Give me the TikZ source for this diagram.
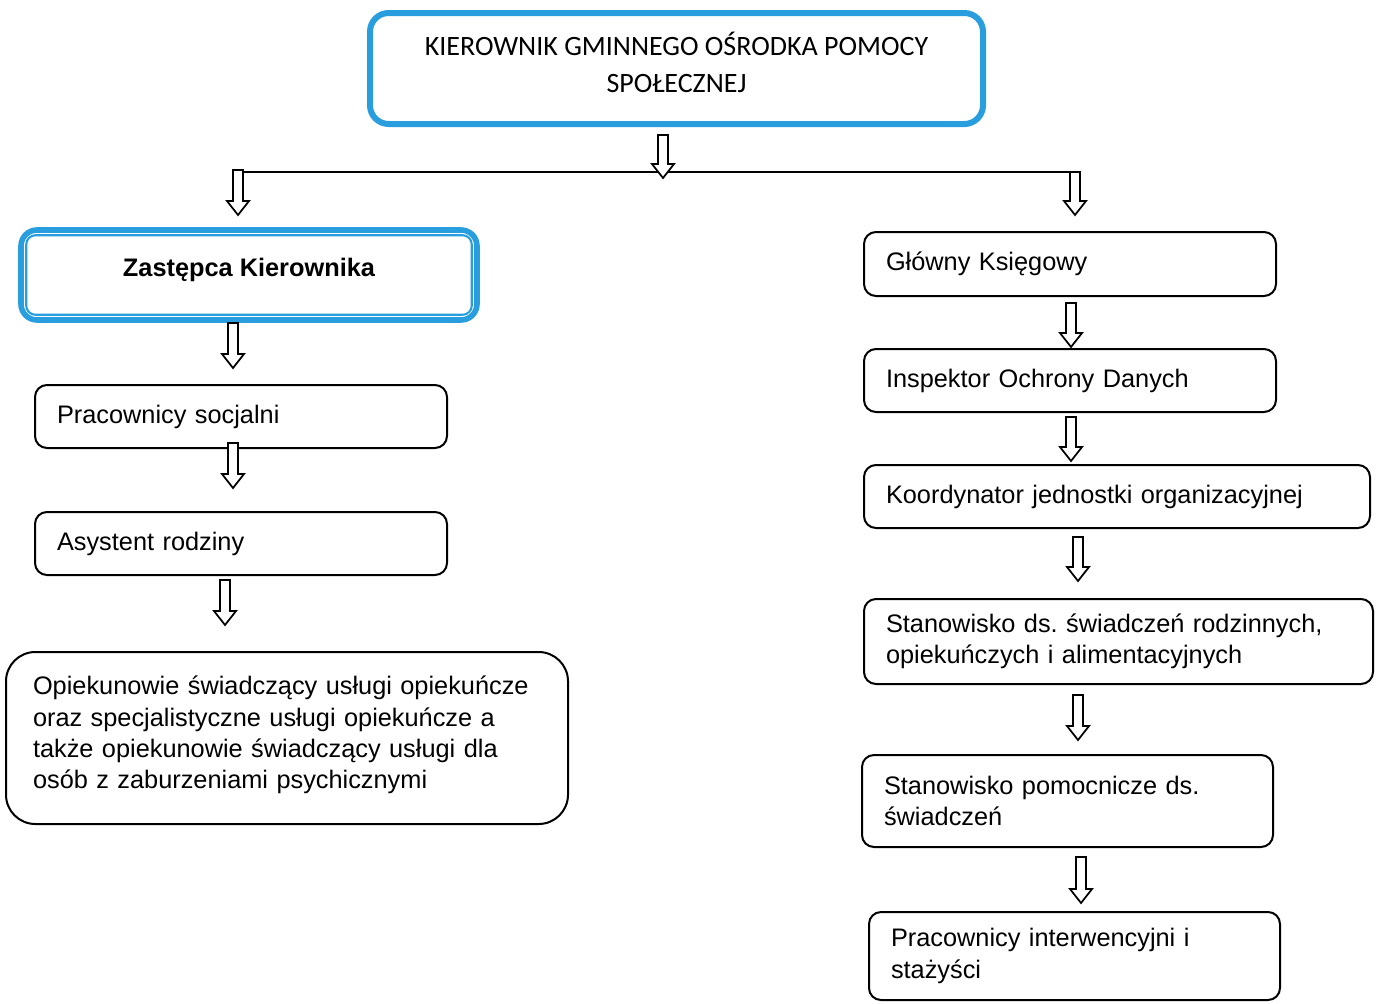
\documentclass[tikz,border=0pt]{standalone}
\usepackage{fontspec}
\setmainfont{Liberation Sans}
\newfontfamily\calfont{Carlito}
\definecolor{bl}{RGB}{40,158,222}
\frenchspacing
\tikzset{
  box/.style={draw=black, line width=1.5pt, rounded corners=9pt, fill=white,
    align=left, inner xsep=16.5pt, inner ysep=0pt,
    font=\fontsize{19}{23.5}\selectfont, anchor=center},
  bluebox/.style={draw=bl, line width=4.5pt, rounded corners=14pt, fill=white,
    align=center, inner sep=0pt, anchor=center},
  arr/.style={draw=black, line width=1.3pt, fill=white, line join=miter},
  hline/.style={draw=black, line width=1.5pt}
}
\newcommand\barrow[4]{%
  \draw[arr] (#2-5,#3) -- (#2+5,#3) -- (#2+5,#4-14) -- (#2+11,#4-14) -- (#2,#4)
    -- (#2-11,#4-14) -- (#2-5,#4-14) -- cycle;
  \coordinate (#1) at (#2,#3);}
\begin{document}
\begin{tikzpicture}[x=0.75pt,y=-0.75pt]
\useasboundingbox (0,0) rectangle (1376,1003);

% top
\node[bluebox, minimum width=459.75pt, minimum height=83.25pt,
  font=\calfont\fontsize{21}{28}\selectfont] (kier) at (676.5,68.5)
  {KIEROWNIK GMINNEGO OŚRODKA POMOCY\\SPOŁECZNEJ\rule[-9pt]{0pt}{0pt}};

% connectors from top
\draw[hline] (238,172) coordinate (hl) -- (1075,172) coordinate (hr);
\barrow{am}{663}{135}{178}
\barrow{al}{238}{170}{215}
\barrow{ar}{1075}{172}{215}

% left column
\node[bluebox, line width=4.2pt, minimum width=342pt, minimum height=67.5pt, rounded corners=12pt,
  font=\bfseries\fontsize{19}{23.5}\selectfont, text depth=12pt] (zast) at (249,275)
  {Zastępca Kierownika};
\path (zast.north west) ++(8,8) coordinate (zi1);
\path (zast.south east) ++(-8,-8) coordinate (zi2);
\draw[draw=bl, line width=1.6pt, rounded corners=7pt] (zi1) rectangle (zi2);

\barrow{a1}{233}{323}{368}
\node[box, text width=276pt, minimum height=47.25pt] (ps) at (241,416.5)
  {Pracownicy socjalni};
\barrow{a2}{233}{443}{488}
\node[box, text width=276pt, minimum height=47.25pt] (asr) at (241,543.5)
  {Asystent rodziny};
\barrow{a3}{225}{580}{625}
\node[box, text width=381pt, inner xsep=20.25pt, minimum height=129pt,
  rounded corners=22pt] (op) at (287,738)
  {Opiekunowie świadczący usługi opiekuńcze\\
   oraz specjalistyczne usługi opiekuńcze a\\
   także opiekunowie świadczący usługi dla\\
   osób z zaburzeniami psychicznymi\rule[-8.5pt]{0pt}{0pt}};

% right column
\node[box, text width=276pt, minimum height=48pt] (gk) at (1070,264)
  {Główny Księgowy};
\barrow{r1}{1071}{303}{347}
\node[box, text width=276pt, minimum height=47.25pt] (iod) at (1070,380.5)
  {Inspektor Ochrony Danych};
\barrow{r2}{1071}{417}{461}
\node[box, text width=346.5pt, minimum height=47.25pt] (kj) at (1117,496.5)
  {Koordynator jednostki organizacyjnej};
\barrow{r3}{1078}{537}{581}
\node[box, text width=348.75pt, minimum height=63.75pt] (sd) at (1118.5,641.5)
  {Stanowisko ds. świadczeń rodzinnych,\\opiekuńczych i alimentacyjnych};
\barrow{r4}{1078}{695}{740}
\node[box, text width=275.25pt, minimum height=69pt] (sp) at (1067.5,801)
  {Stanowisko pomocnicze ds.\\świadczeń};
\barrow{r5}{1081}{857}{903}
\node[box, text width=275.25pt, minimum height=66pt] (pi) at (1074.5,956)
  {Pracownicy interwencyjni i\\stażyści};
\end{tikzpicture}
\end{document}
